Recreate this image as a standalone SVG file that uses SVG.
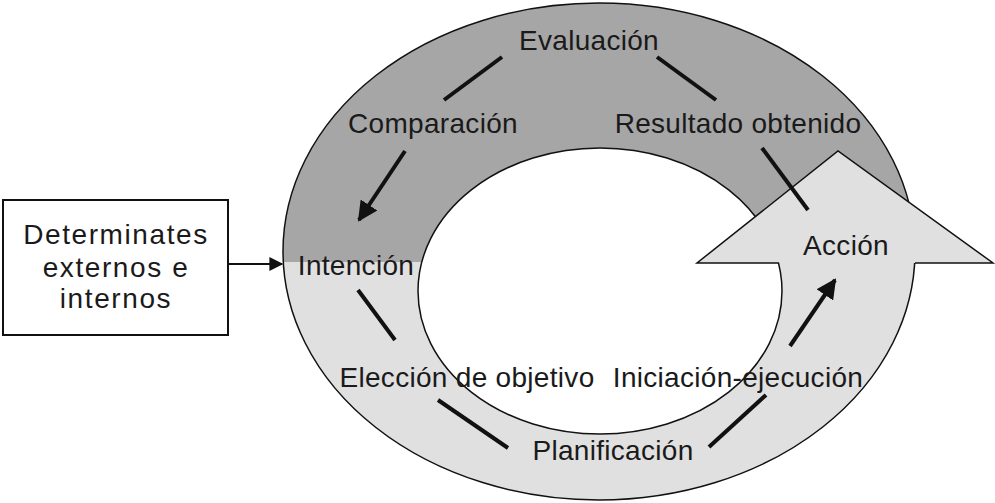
<svg xmlns="http://www.w3.org/2000/svg" width="995" height="503" viewBox="0 0 995 503">
<style>
.lbl{font-family:"Liberation Sans",Arial,sans-serif;font-size:28px;letter-spacing:0.3px;fill:#1a1a1a;text-anchor:middle}
.box{font-family:"Liberation Sans",Arial,sans-serif;font-size:28px;letter-spacing:1.6px;fill:#1a1a1a;text-anchor:middle}
.con{stroke:#111;stroke-width:4;fill:none}
.thin{stroke:#111;stroke-width:2;fill:none}
.edge{stroke:#111;stroke-width:1.5}
</style>
<defs>
<clipPath id="bottom"><rect x="0" y="262" width="995" height="241"/></clipPath>
<marker id="ah" viewBox="0 0 10 10" refX="9" refY="5" markerWidth="5" markerHeight="5" markerUnits="strokeWidth" orient="auto"><path d="M0,0 L10,5 L0,10 z" fill="#111"/></marker>
<marker id="ah2" viewBox="0 0 10 10" refX="9" refY="5" markerWidth="8" markerHeight="7" markerUnits="strokeWidth" orient="auto"><path d="M0,0 L10,5 L0,10 z" fill="#111"/></marker>
</defs>
<g id="ring">
<ellipse cx="599" cy="251.5" rx="316" ry="248.5" fill="#a6a6a6"/>
<ellipse cx="599" cy="251.5" rx="316" ry="248.5" fill="#e0e0e0" clip-path="url(#bottom)"/>
<ellipse cx="599" cy="251.5" rx="316" ry="248.5" fill="none" class="edge"/>
<ellipse cx="600" cy="291" rx="182" ry="143" fill="#fff" class="edge"/>
</g>
<g id="accion-arrow">
<polygon points="697,263 838,151 993,263" fill="#e0e0e0"/>
<path d="M779,263 L697,263 L838,151 L993,263 L915,263" fill="none" class="edge"/>
</g>
<g id="connectors">
<line x1="502" y1="57" x2="444" y2="100" class="con"/>
<line x1="657" y1="57" x2="716" y2="100" class="con"/>
<line x1="405" y1="151" x2="359" y2="220" class="con" marker-end="url(#ah)"/>
<line x1="762" y1="148" x2="808" y2="210" class="con"/>
<line x1="358" y1="290" x2="395" y2="340" class="con"/>
<line x1="438" y1="400" x2="508" y2="448" class="con"/>
<line x1="709" y1="447" x2="766" y2="395" class="con"/>
<line x1="790" y1="346" x2="835" y2="280" class="con" marker-end="url(#ah)"/>
<line x1="228" y1="264" x2="282" y2="264" class="thin" marker-end="url(#ah2)"/>
</g>
<g id="determinantes">
<rect x="3" y="200" width="225" height="135" fill="#fff" stroke="#111" stroke-width="2"/>
<text class="box" x="116" y="244">Determinates</text>
<text class="box" x="116" y="277">externos e</text>
<text class="box" x="116" y="308">internos</text>
</g>
<g id="evaluacion"><text class="lbl" x="589" y="50">Evaluación</text></g>
<g id="comparacion"><text class="lbl" x="433" y="133">Comparación</text></g>
<g id="resultado"><text class="lbl" x="738" y="133">Resultado obtenido</text></g>
<g id="intencion"><text class="lbl" x="356" y="275">Intención</text></g>
<g id="accion"><text class="lbl" x="846" y="255">Acción</text></g>
<g id="eleccion"><text class="lbl" x="467" y="387">Elección de objetivo</text></g>
<g id="iniciacion"><text class="lbl" x="738" y="387">Iniciación-ejecución</text></g>
<g id="planificacion"><text class="lbl" x="613" y="460">Planificación</text></g>
</svg>
